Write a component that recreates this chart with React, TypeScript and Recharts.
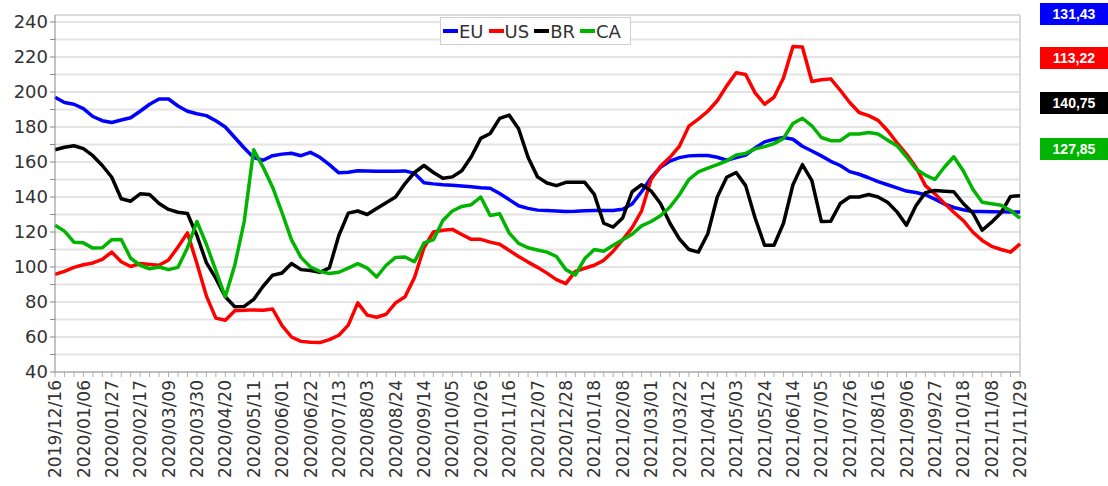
import React from 'react';
import {
  LineChart,
  Line,
  XAxis,
  YAxis,
  CartesianGrid,
  Legend,
  ReferenceLine,
} from 'recharts';

// weekly dates, 2019/12/16 .. 2021/11/29
const dates = [
  '2019/12/16', '2019/12/23', '2019/12/30', '2020/01/06', '2020/01/13', '2020/01/20', '2020/01/27',
  '2020/02/03', '2020/02/10', '2020/02/17', '2020/02/24', '2020/03/02', '2020/03/09', '2020/03/16',
  '2020/03/23', '2020/03/30', '2020/04/06', '2020/04/13', '2020/04/20', '2020/04/27', '2020/05/04',
  '2020/05/11', '2020/05/18', '2020/05/25', '2020/06/01', '2020/06/08', '2020/06/15', '2020/06/22',
  '2020/06/29', '2020/07/06', '2020/07/13', '2020/07/20', '2020/07/27', '2020/08/03', '2020/08/10',
  '2020/08/17', '2020/08/24', '2020/08/31', '2020/09/07', '2020/09/14', '2020/09/21', '2020/09/28',
  '2020/10/05', '2020/10/12', '2020/10/19', '2020/10/26', '2020/11/02', '2020/11/09', '2020/11/16',
  '2020/11/23', '2020/11/30', '2020/12/07', '2020/12/14', '2020/12/21', '2020/12/28', '2021/01/04',
  '2021/01/11', '2021/01/18', '2021/01/25', '2021/02/01', '2021/02/08', '2021/02/15', '2021/02/22',
  '2021/03/01', '2021/03/08', '2021/03/15', '2021/03/22', '2021/03/29', '2021/04/05', '2021/04/12',
  '2021/04/19', '2021/04/26', '2021/05/03', '2021/05/10', '2021/05/17', '2021/05/24', '2021/05/31',
  '2021/06/07', '2021/06/14', '2021/06/21', '2021/06/28', '2021/07/05', '2021/07/12', '2021/07/19',
  '2021/07/26', '2021/08/02', '2021/08/09', '2021/08/16', '2021/08/23', '2021/08/30', '2021/09/06',
  '2021/09/13', '2021/09/20', '2021/09/27', '2021/10/04', '2021/10/11', '2021/10/18', '2021/10/25',
  '2021/11/01', '2021/11/08', '2021/11/15', '2021/11/22', '2021/11/29',
];

const eu = [
  197, 194, 193, 190.5, 186, 183.6, 182.6, 184, 185.3, 189,
  193, 196, 196, 192, 189, 187.6, 186.5, 183.6, 180, 174,
  168, 162.5, 161, 163.6, 164.5, 165, 163.6, 165.5, 162.7, 158.5,
  153.8, 154.2, 155, 154.8, 154.7, 154.7, 154.7, 154.9, 153.5, 148.2,
  147.5, 147, 146.7, 146.3, 145.8, 145.3, 145, 142, 138.5, 135,
  133.5, 132.5, 132.3, 132, 131.7, 131.8, 132.2, 132.3, 132.3, 132.3,
  133, 136, 143, 151, 157, 160.5, 162.5, 163.5, 163.7, 163.7,
  162.7, 161, 162.5, 164, 168, 171.5, 173, 174, 173, 169,
  166.3, 163.5, 160.4, 158, 154.5, 153, 151, 148.8, 147, 145.2,
  143.4, 142.6, 141.3, 138.8, 136, 134, 132.7, 131.7, 131.7, 131.6,
  131.5, 131.5, 131.43,
];

const us = [
  95.8, 97.5, 99.8, 101.3, 102.3, 104.4, 108.5, 103, 100.3, 102,
  101.5, 101, 104, 111.4, 119.5, 102, 83.5, 70.8, 69.6, 75,
  75.3, 75.5, 75.3, 76, 66.5, 60, 57.5, 57, 56.8, 58.5,
  61, 66.8, 79.5, 72.5, 71.3, 73, 79.5, 83, 94, 111,
  120, 121, 121.5, 118.6, 115.8, 115.8, 114.2, 113, 109.5, 106,
  102.8, 99.8, 96.5, 92.8, 90.5, 97.5, 99.3, 101, 103.8, 109,
  115.5, 122.5, 132, 150, 157.5, 162.7, 169, 180.5, 184.5, 189,
  195, 203.5, 211, 210, 199.5, 193, 197, 208, 226, 225.7,
  206, 207, 207.5, 201, 194, 188.3, 186.5, 183.8, 178, 171,
  164.5, 157, 146.5, 141.8, 136.5, 131.3, 126.6, 120, 115.2, 111.8,
  110, 108.5, 113.22,
];

const br = [
  167, 168.4, 169.3, 167.6, 163.6, 158, 151.3, 139, 137.6, 141.8,
  141.4, 136.3, 132.9, 131.3, 130.6, 118, 102.5, 93.5, 83, 77.3,
  77.5, 81.5, 89, 95.3, 96.6, 102, 98.5, 98, 97, 99.5,
  118, 130.8, 132, 130, 133.4, 136.7, 140, 147.7, 154, 158,
  154, 150.7, 151.5, 155, 163, 173.5, 176.3, 184.9, 186.8, 179,
  162.7, 151.5, 148, 146.5, 148.4, 148.5, 148.4, 141.5, 125, 122.8,
  128, 143, 147, 143.5, 136.3, 125, 116, 110, 108.5, 119,
  140, 151.3, 154, 146.5, 128, 112.4, 112.4, 125, 147, 158.5,
  149.4, 126, 126.2, 136.3, 140, 140, 141.4, 140, 137, 131.5,
  123.8, 135, 142.5, 143.7, 143.3, 143, 136.3, 131, 121, 125.6,
  131, 140.3, 140.75,
];

const ca = [
  123.8, 120.5, 114.2, 113.8, 110.8, 111, 115.6, 115.7, 105, 101,
  99, 100, 98.5, 99.8, 111, 126, 113, 98, 83, 101,
  126, 167, 157, 145.6, 131, 115.5, 105.5, 100, 97.5, 96.3,
  97, 99.4, 101.9, 99.4, 94.3, 101, 105.5, 105.7, 103, 113.7,
  115.6, 126.6, 132, 134.6, 135.6, 140, 129.4, 130.4, 119.5, 113.5,
  111, 109.7, 108.5, 106, 98.5, 95.5, 104.8, 110, 109, 112.4,
  115.6, 118.7, 123.5, 126, 129.3, 134.3, 141.3, 150, 154.3, 156.5,
  158.5, 160.7, 164, 164.9, 167.5, 168.8, 170.5, 173.5, 182, 185,
  180.7, 174, 172.2, 172.2, 176, 176, 176.9, 176, 172.5, 169.3,
  163, 156, 152.5, 150, 157, 163, 155, 144.6, 137, 136.2,
  135.3, 132.3, 127.85,
];

const yTicks = [40, 50, 60, 70, 80, 90, 100, 110, 120, 130, 140, 150, 160, 170, 180, 190, 200, 210, 220, 230, 240];

const series = [
  { key: 'EU', values: eu, color: '#0000ff', boxTop: 3 },
  { key: 'US', values: us, color: '#ff0000', boxTop: 47 },
  { key: 'BR', values: br, color: '#000000', boxTop: 92 },
  { key: 'CA', values: ca, color: '#00b400', boxTop: 138 },
];

const rows = dates.map((d, i) => ({
  date: d,
  EU: eu[i],
  US: us[i],
  BR: br[i],
  CA: ca[i],
}));

const FONT = '"DejaVu Sans", Verdana, sans-serif';

const XTick = (props: any) => {
  const { x, y, payload } = props;
  const idx = dates.indexOf(payload.value);
  if (idx % 3 !== 0) return null;
  return (
    <g transform={`translate(${x},${y + 1})`}>
      <text
        transform="rotate(-90)"
        textAnchor="end"
        dy="0.36em"
        fill="#333"
        fontSize={17}
        fontFamily={FONT}
      >
        {payload.value}
      </text>
    </g>
  );
};

const YTick = (props: any) => {
  const { x, y, payload } = props;
  if (payload.value % 20 !== 0) return null;
  return (
    <text x={x} y={y} dy="0.36em" textAnchor="end" fill="#333" fontSize={18} fontFamily={FONT}>
      {payload.value}
    </text>
  );
};

const LegendBox = () => (
  <div
    style={{
      display: 'flex',
      alignItems: 'center',
      height: 26,
      border: '1px solid #cfcfcf',
      background: '#fff',
      padding: '0 4px 0 2px',
      fontFamily: FONT,
      fontSize: 18,
      color: '#333',
    }}
  >
    {series.map((s) => (
      <div key={s.key} style={{ display: 'flex', alignItems: 'center', marginRight: 5 }}>
        <span style={{ display: 'inline-block', width: 15, height: 4, background: s.color, marginRight: 1 }} />
        <span>{s.key}</span>
      </div>
    ))}
  </div>
);

const fmt = (v: number) => v.toFixed(2).replace('.', ',');

export default function App() {
  return (
    <div
      style={{
        position: 'absolute',
        left: 0,
        top: 0,
        width: 1108,
        height: 486,
        background: '#fff',
        overflow: 'hidden',
      }}
    >
      <LineChart width={1108} height={486} data={rows} margin={{ top: 15, right: 88, bottom: 0, left: 0 }}>
        <CartesianGrid vertical={false} stroke="#e4e4e4" strokeWidth={2} />
        <XAxis
          dataKey="date"
          interval={0}
          tick={<XTick />}
          tickSize={5}
          height={114}
          axisLine={{ stroke: '#9a9a9a' }}
          tickLine={{ stroke: '#b0b0b0' }}
        />
        <YAxis
          domain={[40, 244]}
          ticks={yTicks}
          interval={0}
          tick={<YTick />}
          tickSize={5}
          width={55}
          axisLine={{ stroke: '#8a8a8a' }}
          tickLine={{ stroke: '#8a8a8a' }}
        />
        <ReferenceLine y={244} stroke="#d8d8d8" strokeWidth={1.5} />
        <ReferenceLine x={dates[dates.length - 1]} stroke="#cccccc" strokeWidth={1.5} />
        <Legend
          layout="horizontal"
          verticalAlign="middle"
          align="center"
          content={<LegendBox />}
          wrapperStyle={{ left: 440, top: 17, width: 'auto', height: 'auto' }}
        />
        {series.map((s) => (
          <Line
            key={s.key}
            type="linear"
            dataKey={s.key}
            stroke={s.color}
            strokeWidth={3.5}
            strokeLinejoin="round"
            dot={false}
            activeDot={false}
            isAnimationActive={false}
          />
        ))}
      </LineChart>
      {series.map((s) => (
        <div
          key={s.key}
          style={{
            position: 'absolute',
            left: 1040,
            top: s.boxTop,
            width: 68,
            height: 22,
            background: s.color,
            color: '#fff',
            fontFamily: '"Liberation Sans", Arial, sans-serif',
            fontWeight: 'bold',
            fontSize: 14,
            lineHeight: '22px',
            textAlign: 'center',
          }}
        >
          {fmt(s.values[s.values.length - 1])}
        </div>
      ))}
    </div>
  );
}
